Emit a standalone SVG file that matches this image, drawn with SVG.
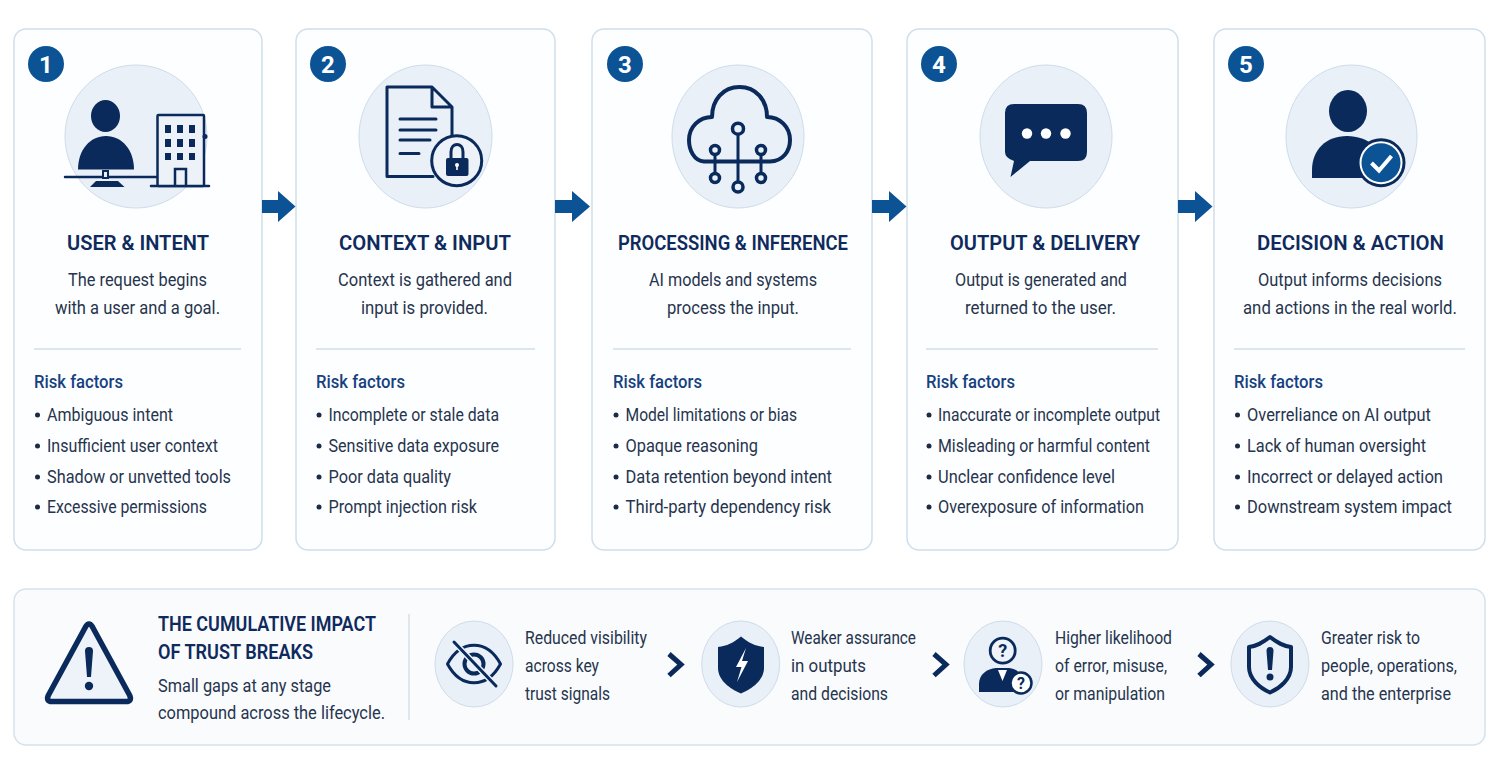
<svg xmlns="http://www.w3.org/2000/svg" width="1503" height="768" viewBox="0 0 1503 768">
<style>
text{font-family:"Roboto","Liberation Sans",sans-serif}
.card{fill:#fdfeff;stroke:#cfdeea;stroke-width:1.5}
.disc{fill:#e9f0f8;stroke:#cfdcea;stroke-width:1}
.badge{fill:#0b5394}
.num{fill:#fff;font-size:24px;font-weight:700;text-anchor:middle}
.title{fill:#0f2a5c;font-size:20.500px;font-weight:600;text-anchor:middle}
.desc{fill:#26344d;font-size:17.500px;text-anchor:middle}
.rule{stroke:#cfdeea;stroke-width:1.5}
.risk{fill:#16417f;font-size:17.500px;font-weight:500}
.item{fill:#26344d;font-size:17.500px}
.dot{fill:#1c2a45}
.arrow{fill:#0b5394}
.ink{fill:#0a2a5c}
.line{fill:none;stroke:#0a2a5c;stroke-width:3;stroke-linecap:round;stroke-linejoin:round}
.chev{fill:none;stroke:#0a2a5c;stroke-width:5}
.h2{fill:#0f2a5c;font-size:19.500px;font-weight:600}
.sm{fill:#26344d;font-size:17.500px}
</style>
<rect width="1503" height="768" fill="#fff"/>
<g id="card1">
<rect class="card" x="14" y="29" width="248" height="521" rx="12"/>
<circle class="badge" cx="46" cy="64" r="18"/><text class="num" x="46" y="72.500">1</text>
<ellipse class="disc" cx="136" cy="136.500" rx="71" ry="71.500"/>
<ellipse class="ink" cx="105.500" cy="116" rx="14.500" ry="16"/>
<path class="ink" d="M78 169.500C78 150 90 136 106 136C122 136 134 150 134 169.500Z"/>
<path class="line" d="M65 177H156M151 186H209" style="stroke-width:2.500"/>
<rect x="103" y="171" width="5" height="7" fill="#e9f0f8" stroke="#0a2a5c" stroke-width="2"/>
<path class="ink" d="M90 187L96 181H118L124.500 187Z"/>
<rect x="157.500" y="115" width="46.500" height="71" fill="#edf2f9" stroke="#0a2a5c" stroke-width="2.500" rx="1"/>
<path class="ink" d="M165 125h6v8h-6zM177 125h6v8h-6zM189 125h6v8h-6zM165 139h6v8h-6zM177 139h6v8h-6zM189 139h6v8h-6zM165 153h6v7h-6zM177 153h6v7h-6zM189 153h6v7h-6z"/>
<path d="M175 186V169H186V186" fill="none" stroke="#0a2a5c" stroke-width="2.500"/>
<circle class="ink" cx="205" cy="136.500" r="2.500"/>
<text class="title" x="138" y="249.500" textLength="142" lengthAdjust="spacingAndGlyphs">USER &amp; INTENT</text>
<text class="desc" x="137.500" y="285.500" textLength="139" lengthAdjust="spacingAndGlyphs">The request begins</text><text class="desc" x="137.500" y="313.500" textLength="165" lengthAdjust="spacingAndGlyphs">with a user and a goal.</text>
<line class="rule" x1="34" y1="349" x2="241" y2="349"/>
<text class="risk" x="34" y="387.500" textLength="89" lengthAdjust="spacingAndGlyphs">Risk factors</text>
<circle class="dot" cx="37.500" cy="415" r="2.500"/><text class="item" x="47" y="420.500" textLength="126" lengthAdjust="spacingAndGlyphs">Ambiguous intent</text>
<circle class="dot" cx="37.500" cy="446" r="2.500"/><text class="item" x="47" y="451.500" textLength="171" lengthAdjust="spacingAndGlyphs">Insufficient user context</text>
<circle class="dot" cx="37.500" cy="477" r="2.500"/><text class="item" x="47" y="482.500" textLength="184" lengthAdjust="spacingAndGlyphs">Shadow or unvetted tools</text>
<circle class="dot" cx="37.500" cy="507" r="2.500"/><text class="item" x="47" y="512.500" textLength="160" lengthAdjust="spacingAndGlyphs">Excessive permissions</text>
</g>
<g id="card2">
<rect class="card" x="296" y="29" width="259" height="521" rx="12"/>
<circle class="badge" cx="328" cy="64" r="18"/><text class="num" x="328" y="72.500">2</text>
<ellipse class="disc" cx="425.500" cy="136.500" rx="66.500" ry="71.500"/>
<path class="line" d="M432 87H387V176.500H433M452 140V107L432 87V107H452" style="stroke-width:3"/>
<path class="line" d="M400 119H436M400 130H436M400 140H430M400 153.500H419"/>
<circle cx="456.700" cy="160.700" r="25" fill="#edf2f9" stroke="#0a2a5c" stroke-width="3"/>
<rect class="ink" x="446" y="158" width="22.500" height="18" rx="2"/>
<path d="M451 158V152C451 142 463 142 463 152V158" fill="none" stroke="#0a2a5c" stroke-width="3"/>
<circle cx="457" cy="165" r="2" fill="#fff"/><rect x="456.200" y="165" width="1.600" height="5" fill="#fff"/>
<text class="title" x="425" y="249.500" textLength="172" lengthAdjust="spacingAndGlyphs">CONTEXT &amp; INPUT</text>
<text class="desc" x="425" y="285.500" textLength="174" lengthAdjust="spacingAndGlyphs">Context is gathered and</text><text class="desc" x="424.500" y="313.500" textLength="127" lengthAdjust="spacingAndGlyphs">input is provided.</text>
<line class="rule" x1="316" y1="349" x2="535" y2="349"/>
<text class="risk" x="316" y="387.500" textLength="89" lengthAdjust="spacingAndGlyphs">Risk factors</text>
<circle class="dot" cx="319" cy="415" r="2.500"/><text class="item" x="328.500" y="420.500" textLength="170.500" lengthAdjust="spacingAndGlyphs">Incomplete or stale data</text>
<circle class="dot" cx="319" cy="446" r="2.500"/><text class="item" x="328.500" y="451.500" textLength="170.500" lengthAdjust="spacingAndGlyphs">Sensitive data exposure</text>
<circle class="dot" cx="319" cy="477" r="2.500"/><text class="item" x="328.500" y="482.500" textLength="122.500" lengthAdjust="spacingAndGlyphs">Poor data quality</text>
<circle class="dot" cx="319" cy="507" r="2.500"/><text class="item" x="328.500" y="512.500" textLength="148.500" lengthAdjust="spacingAndGlyphs">Prompt injection risk</text>
</g>
<g id="card3">
<rect class="card" x="592" y="29" width="280" height="521" rx="12"/>
<circle class="badge" cx="625" cy="64" r="18"/><text class="num" x="625" y="72.500">3</text>
<ellipse class="disc" cx="738" cy="136.500" rx="66" ry="71.500"/>
<path class="line" d="M704 161.500C694 161 689 150 689 140C689 127 699 117 712 117C712 100 723 87 739.500 87C756 87 767 100 767 117C780 117 790 127 790 140C790 151 783 161 770 161.500H704" style="stroke-width:4"/>
<path class="line" d="M738 134V182M715 155V173M761 155V173"/>
<g fill="#e9f0f8" stroke="#0a2a5c" stroke-width="3.500"><circle cx="738" cy="128.700" r="5.500"/><circle cx="738" cy="187" r="5"/><circle cx="715" cy="150" r="4.500"/><circle cx="715" cy="178" r="4.500"/><circle cx="761" cy="150" r="4.500"/><circle cx="761" cy="178" r="4.500"/></g>
<text class="title" x="733" y="249.500" textLength="230" lengthAdjust="spacingAndGlyphs">PROCESSING &amp; INFERENCE</text>
<text class="desc" x="733" y="285.500" textLength="168" lengthAdjust="spacingAndGlyphs">AI models and systems</text><text class="desc" x="733" y="313.500" textLength="132" lengthAdjust="spacingAndGlyphs">process the input.</text>
<line class="rule" x1="613" y1="349" x2="851" y2="349"/>
<text class="risk" x="613" y="387.500" textLength="89" lengthAdjust="spacingAndGlyphs">Risk factors</text>
<circle class="dot" cx="616" cy="415" r="2.500"/><text class="item" x="625.500" y="420.500" textLength="171.500" lengthAdjust="spacingAndGlyphs">Model limitations or bias</text>
<circle class="dot" cx="616" cy="446" r="2.500"/><text class="item" x="625.500" y="451.500" textLength="132.500" lengthAdjust="spacingAndGlyphs">Opaque reasoning</text>
<circle class="dot" cx="616" cy="477" r="2.500"/><text class="item" x="625.500" y="482.500" textLength="206.500" lengthAdjust="spacingAndGlyphs">Data retention beyond intent</text>
<circle class="dot" cx="616" cy="507" r="2.500"/><text class="item" x="625.500" y="512.500" textLength="205.500" lengthAdjust="spacingAndGlyphs">Third-party dependency risk</text>
</g>
<g id="card4">
<rect class="card" x="907" y="29" width="271" height="521" rx="12"/>
<circle class="badge" cx="939" cy="64" r="18"/><text class="num" x="939" y="72.500">4</text>
<ellipse class="disc" cx="1046" cy="136.500" rx="66" ry="71.500"/>
<path class="ink" d="M1014 104H1078Q1087 104 1087 113V152Q1087 161 1078 161H1030L1010.500 177L1014 161Q1005 158 1005 152V113Q1005 104 1014 104Z"/>
<g fill="#fff"><circle cx="1027" cy="133.500" r="5.200"/><circle cx="1046" cy="133.500" r="5.200"/><circle cx="1065.500" cy="133.500" r="5.200"/></g>
<text class="title" x="1045" y="249.500" textLength="190" lengthAdjust="spacingAndGlyphs">OUTPUT &amp; DELIVERY</text>
<text class="desc" x="1041" y="285.500" textLength="172" lengthAdjust="spacingAndGlyphs">Output is generated and</text><text class="desc" x="1040.500" y="313.500" textLength="151" lengthAdjust="spacingAndGlyphs">returned to the user.</text>
<line class="rule" x1="926" y1="349" x2="1158" y2="349"/>
<text class="risk" x="926" y="387.500" textLength="89" lengthAdjust="spacingAndGlyphs">Risk factors</text>
<circle class="dot" cx="929" cy="415" r="2.500"/><text class="item" x="938" y="420.500" textLength="222" lengthAdjust="spacingAndGlyphs">Inaccurate or incomplete output</text>
<circle class="dot" cx="929" cy="446" r="2.500"/><text class="item" x="938" y="451.500" textLength="212" lengthAdjust="spacingAndGlyphs">Misleading or harmful content</text>
<circle class="dot" cx="929" cy="477" r="2.500"/><text class="item" x="938" y="482.500" textLength="177" lengthAdjust="spacingAndGlyphs">Unclear confidence level</text>
<circle class="dot" cx="929" cy="507" r="2.500"/><text class="item" x="938" y="512.500" textLength="206" lengthAdjust="spacingAndGlyphs">Overexposure of information</text>
</g>
<g id="card5">
<rect class="card" x="1214" y="29" width="271" height="521" rx="12"/>
<circle class="badge" cx="1246" cy="64" r="18"/><text class="num" x="1246" y="72.500">5</text>
<ellipse class="disc" cx="1351.500" cy="136.500" rx="65.500" ry="71.500"/>
<ellipse class="ink" cx="1348" cy="111" rx="19" ry="21"/>
<path class="ink" d="M1312 178V170C1312 150 1326 136 1347 136C1368 136 1385 150 1385 170V178Z"/>
<circle class="ink" cx="1381" cy="162.700" r="24.500"/>
<circle cx="1381" cy="162.700" r="21.500" fill="#fff"/>
<circle class="badge" cx="1381" cy="162.700" r="19.500"/>
<path d="M1371.500 163L1379 170.500L1391.500 156" fill="none" stroke="#fff" stroke-width="4"/>
<text class="title" x="1350.500" y="249.500" textLength="187" lengthAdjust="spacingAndGlyphs">DECISION &amp; ACTION</text>
<text class="desc" x="1350" y="285.500" textLength="184" lengthAdjust="spacingAndGlyphs">Output informs decisions</text><text class="desc" x="1350" y="313.500" textLength="214" lengthAdjust="spacingAndGlyphs">and actions in the real world.</text>
<line class="rule" x1="1234" y1="349" x2="1465" y2="349"/>
<text class="risk" x="1234" y="387.500" textLength="89" lengthAdjust="spacingAndGlyphs">Risk factors</text>
<circle class="dot" cx="1237.500" cy="415" r="2.500"/><text class="item" x="1247" y="420.500" textLength="184" lengthAdjust="spacingAndGlyphs">Overreliance on AI output</text>
<circle class="dot" cx="1237.500" cy="446" r="2.500"/><text class="item" x="1247" y="451.500" textLength="179" lengthAdjust="spacingAndGlyphs">Lack of human oversight</text>
<circle class="dot" cx="1237.500" cy="477" r="2.500"/><text class="item" x="1247" y="482.500" textLength="196" lengthAdjust="spacingAndGlyphs">Incorrect or delayed action</text>
<circle class="dot" cx="1237.500" cy="507" r="2.500"/><text class="item" x="1247" y="512.500" textLength="205" lengthAdjust="spacingAndGlyphs">Downstream system impact</text>
</g>
<g id="connectors">
<path class="arrow" d="M262 200H278V191L295.500 206.500L278 222V213H262Z"/>
<path class="arrow" d="M555 200H572V191L590 206.500L572 222V213H555Z"/>
<path class="arrow" d="M872 200H889V191L906.500 206.500L889 222V213H872Z"/>
<path class="arrow" d="M1178 200H1195V191L1212.500 206.500L1195 222V213H1178Z"/>
</g>
<g id="impact">
<rect x="14" y="589" width="1471" height="156" rx="12" fill="#f9fbfd" stroke="#d5e2ec" stroke-width="1.500"/>
<path d="M85.500 627Q89 621 92.500 627L129.500 695Q132.500 701.500 126 701.500H52Q45.500 701.500 48.500 695Z" fill="#eef2f9" stroke="#0a2a5c" stroke-width="5.500" stroke-linejoin="round"/>
<path class="ink" d="M85 651Q85 647 89 647Q93 647 93 651L91 677H87Z"/>
<circle class="ink" cx="89" cy="686" r="4.200"/>
<text class="h2" x="158" y="631" textLength="218" lengthAdjust="spacingAndGlyphs">THE CUMULATIVE IMPACT</text>
<text class="h2" x="158" y="659" textLength="155" lengthAdjust="spacingAndGlyphs">OF TRUST BREAKS</text>
<text class="sm" x="158" y="691.500" textLength="173" lengthAdjust="spacingAndGlyphs">Small gaps at any stage</text>
<text class="sm" x="158" y="718.500" textLength="227" lengthAdjust="spacingAndGlyphs">compound across the lifecycle.</text>
<line x1="409" y1="614" x2="409" y2="720" stroke="#d5dfe9" stroke-width="1.500"/>
</g>
<g id="impact1">
<ellipse class="disc" cx="474" cy="664" rx="39" ry="43"/>
<path class="line" d="M447.500 664C461 639 487 639 500.500 664C487 689 461 689 447.500 664Z"/>
<circle cx="474" cy="664" r="9.500" fill="none" stroke="#0a2a5c" stroke-width="4"/>
<line x1="454" y1="642" x2="496" y2="686" stroke="#e9f0f8" stroke-width="6"/>
<path class="line" d="M454 642L496 686"/>
<text class="sm" x="525" y="643.500" textLength="122" lengthAdjust="spacingAndGlyphs">Reduced visibility</text><text class="sm" x="525" y="671.500" textLength="74" lengthAdjust="spacingAndGlyphs">across key</text><text class="sm" x="525" y="699.500" textLength="85" lengthAdjust="spacingAndGlyphs">trust signals</text>
</g>
<g id="impact2">
<path class="chev" d="M669 654L681 664.500L669 675.500"/>
<ellipse class="disc" cx="740.700" cy="664" rx="39" ry="43"/>
<path class="ink" d="M741 636.500C733 643 727 646 718 647V668C718 680 730 689 741 693.500C752 689 764 680 764 668V647C755 646 749 643 741 636.500Z"/>
<path d="M746 648L736 667H741.500L737 682L748 661H742Z" fill="#fff"/>
<text class="sm" x="791" y="643.500" textLength="125" lengthAdjust="spacingAndGlyphs">Weaker assurance</text><text class="sm" x="791" y="671.500" textLength="75" lengthAdjust="spacingAndGlyphs">in outputs</text><text class="sm" x="791" y="699.500" textLength="97" lengthAdjust="spacingAndGlyphs">and decisions</text>
</g>
<g id="impact3">
<path class="chev" d="M934 654L946 664.500L934 675.500"/>
<ellipse class="disc" cx="1003" cy="664" rx="39" ry="43"/>
<circle cx="1002.700" cy="650.700" r="12.500" fill="#eef2f9" stroke="#0a2a5c" stroke-width="2.800"/>
<text x="1002.700" y="657" fill="#0a2a5c" font-size="18" font-weight="700" text-anchor="middle">?</text>
<path class="ink" d="M979 692V684C979 674 987 669 996 668H1009C1018 669 1022 674 1022 684V692Z"/>
<path d="M998 670H1007L1002.500 681Z" fill="#fff"/>
<circle cx="1021" cy="683" r="10.500" fill="#fff" stroke="#0a2a5c" stroke-width="2.500"/>
<text x="1021" y="689" fill="#0a2a5c" font-size="16" font-weight="700" text-anchor="middle">?</text>
<text class="sm" x="1055" y="643.500" textLength="117" lengthAdjust="spacingAndGlyphs">Higher likelihood</text><text class="sm" x="1055" y="671.500" textLength="112" lengthAdjust="spacingAndGlyphs">of error, misuse,</text><text class="sm" x="1055" y="699.500" textLength="110" lengthAdjust="spacingAndGlyphs">or manipulation</text>
</g>
<g id="impact4">
<path class="chev" d="M1199 654L1211 664.500L1199 675.500"/>
<ellipse class="disc" cx="1270" cy="664" rx="39" ry="43"/>
<path d="M1270 637C1262 643 1257 646 1249 647V667C1249 679 1260 688 1270 692.500C1280 688 1291 679 1291 667V647C1283 646 1278 643 1270 637Z" fill="none" stroke="#0a2a5c" stroke-width="4" stroke-linejoin="round"/>
<path class="ink" d="M1266.500 651Q1266.500 647 1270 647Q1273.500 647 1273.500 651L1272 670H1268Z"/>
<circle class="ink" cx="1270" cy="677" r="3.500"/>
<text class="sm" x="1321" y="643.500" textLength="99" lengthAdjust="spacingAndGlyphs">Greater risk to</text><text class="sm" x="1321" y="671.500" textLength="136" lengthAdjust="spacingAndGlyphs">people, operations,</text><text class="sm" x="1321" y="699.500" textLength="130" lengthAdjust="spacingAndGlyphs">and the enterprise</text>
</g>
</svg>
